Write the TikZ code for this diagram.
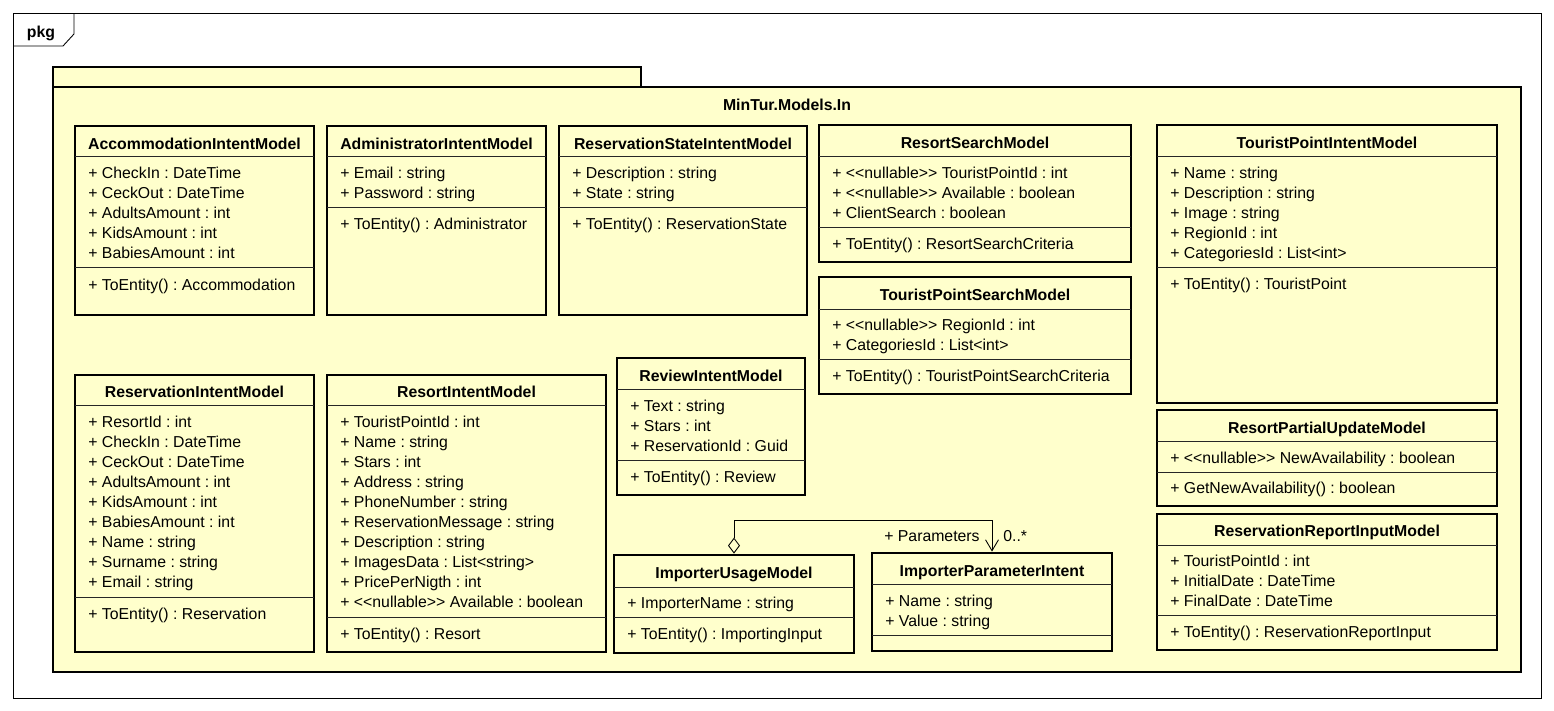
\documentclass[tikz,border=0pt]{standalone}
\usepackage{fontspec}
\setmainfont{Liberation Sans}
\usetikzlibrary{arrows.meta,fit}
\definecolor{umlfill}{RGB}{255,255,204}
\frenchspacing
\begin{document}
\begin{tikzpicture}[
    x=0.02cm, y=-0.02cm,
    every node/.style={font=\fontsize{9}{11.38}\selectfont, inner sep=0pt},
    frame line/.style={draw, line width=0.5pt},
    package box/.style={draw, line width=1.6pt, fill=umlfill},
    class box/.style={draw, line width=1.6pt, fill=umlfill, inner sep=0pt},
    class name/.style={anchor=base, font=\fontsize{9}{11.38}\selectfont\bfseries},
    members/.style={anchor=north west, align=left},
    separator/.style={draw, line width=0.5pt, black!85},
    aggregation/.style={draw, line width=0.5pt, {Diamond[open, length=0.32cm, width=0.24cm]}-{Straight Barb[length=0.22cm, width=0.26cm]}},
    ]
\useasboundingbox (0,0) rectangle (1554,710);
\draw[frame line] (13,13) rectangle (1541,698);
\draw[frame line] (13,46) -- (63,46) -- (74,34) -- (74,13);
\node[font=\fontsize{9}{11.38}\selectfont\bfseries, anchor=base] (pkg) at (41,37) {pkg};
\draw[package box] (53,67) rectangle (641,87);
\draw[package box] (53,87) rectangle (1521,672);
\node[class name] (pkgName) at (787,110) {MinTur.Models.In};
\node[class box, fit={(75,126) (314,315)}] (accom) {};
\node[class name] (accomName) at (194.5,149) {AccommodationIntentModel};
\draw[separator] (75,156) -- (314,156);
\node[members] (accomAttr) at (88,167) {+ CheckIn : DateTime\\+ CeckOut : DateTime\\+ AdultsAmount : int\\+ KidsAmount : int\\+ BabiesAmount : int};
\draw[separator] (75,267) -- (314,267);
\node[members] (accomOp) at (88,279) {+ ToEntity() : Accommodation};
\node[class box, fit={(327,126) (546,315)}] (admin) {};
\node[class name] (adminName) at (436.5,149) {AdministratorIntentModel};
\draw[separator] (327,156) -- (546,156);
\node[members] (adminAttr) at (340,167) {+ Email : string\\+ Password : string};
\draw[separator] (327,207) -- (546,207);
\node[members] (adminOp) at (340,218) {+ ToEntity() : Administrator};
\node[class box, fit={(559,126) (807,315)}] (resState) {};
\node[class name] (resStateName) at (683,149) {ReservationStateIntentModel};
\draw[separator] (559,156) -- (807,156);
\node[members] (resStateAttr) at (572,167) {+ Description : string\\+ State : string};
\draw[separator] (559,207) -- (807,207);
\node[members] (resStateOp) at (572,218) {+ ToEntity() : ReservationState};
\node[class box, fit={(819,125) (1131,262)}] (rSearch) {};
\node[class name] (rSearchName) at (975,148) {ResortSearchModel};
\draw[separator] (819,156) -- (1131,156);
\node[members] (rSearchAttr) at (832,167) {+ <{}<nullable>{}> TouristPointId : int\\+ <{}<nullable>{}> Available : boolean\\+ ClientSearch : boolean};
\draw[separator] (819,227) -- (1131,227);
\node[members] (rSearchOp) at (832,238) {+ ToEntity() : ResortSearchCriteria};
\node[class box, fit={(819,277) (1131,394)}] (tpSearch) {};
\node[class name] (tpSearchName) at (975,300) {TouristPointSearchModel};
\draw[separator] (819,309) -- (1131,309);
\node[members] (tpSearchAttr) at (832,319) {+ <{}<nullable>{}> RegionId : int\\+ CategoriesId : List<int>};
\draw[separator] (819,359) -- (1131,359);
\node[members] (tpSearchOp) at (832,370) {+ ToEntity() : TouristPointSearchCriteria};
\node[class box, fit={(1157,125) (1497,403)}] (tpIntent) {};
\node[class name] (tpIntentName) at (1327,148) {TouristPointIntentModel};
\draw[separator] (1157,156) -- (1497,156);
\node[members] (tpIntentAttr) at (1170,167) {+ Name : string\\+ Description : string\\+ Image : string\\+ RegionId : int\\+ CategoriesId : List<int>};
\draw[separator] (1157,267) -- (1497,267);
\node[members] (tpIntentOp) at (1170,278) {+ ToEntity() : TouristPoint};
\node[class box, fit={(1157,410) (1497,506)}] (partial) {};
\node[class name] (partialName) at (1327,433) {ResortPartialUpdateModel};
\draw[separator] (1157,441) -- (1497,441);
\node[members] (partialAttr) at (1170,452) {+ <{}<nullable>{}> NewAvailability : boolean};
\draw[separator] (1157,472) -- (1497,472);
\node[members] (partialOp) at (1170,482) {+ GetNewAvailability() : boolean};
\node[class box, fit={(1157,514) (1497,650)}] (report) {};
\node[class name] (reportName) at (1327,536) {ReservationReportInputModel};
\draw[separator] (1157,545) -- (1497,545);
\node[members] (reportAttr) at (1170,555) {+ TouristPointId : int\\+ InitialDate : DateTime\\+ FinalDate : DateTime};
\draw[separator] (1157,615) -- (1497,615);
\node[members] (reportOp) at (1170,626) {+ ToEntity() : ReservationReportInput};
\node[class box, fit={(75,375) (314,652)}] (resIntent) {};
\node[class name] (resIntentName) at (194.5,397) {ReservationIntentModel};
\draw[separator] (75,405) -- (314,405);
\node[members] (resIntentAttr) at (88,416) {+ ResortId : int\\+ CheckIn : DateTime\\+ CeckOut : DateTime\\+ AdultsAmount : int\\+ KidsAmount : int\\+ BabiesAmount : int\\+ Name : string\\+ Surname : string\\+ Email : string};
\draw[separator] (75,597) -- (314,597);
\node[members] (resIntentOp) at (88,608) {+ ToEntity() : Reservation};
\node[class box, fit={(327,375) (606,652)}] (resort) {};
\node[class name] (resortName) at (466.5,397) {ResortIntentModel};
\draw[separator] (327,405) -- (606,405);
\node[members] (resortAttr) at (340,416) {+ TouristPointId : int\\+ Name : string\\+ Stars : int\\+ Address : string\\+ PhoneNumber : string\\+ ReservationMessage : string\\+ Description : string\\+ ImagesData : List<string>\\+ PricePerNigth : int\\+ <{}<nullable>{}> Available : boolean};
\draw[separator] (327,617) -- (606,617);
\node[members] (resortOp) at (340,628) {+ ToEntity() : Resort};
\node[class box, fit={(617,358) (805,495)}] (review) {};
\node[class name] (reviewName) at (711,381) {ReviewIntentModel};
\draw[separator] (617,389) -- (805,389);
\node[members] (reviewAttr) at (630,400) {+ Text : string\\+ Stars : int\\+ ReservationId : Guid};
\draw[separator] (617,460) -- (805,460);
\node[members] (reviewOp) at (630,471) {+ ToEntity() : Review};
\node[class box, fit={(614,555) (854,653)}] (usage) {};
\node[class name] (usageName) at (734,578) {ImporterUsageModel};
\draw[separator] (614,587) -- (854,587);
\node[members] (usageAttr) at (627,597) {+ ImporterName : string};
\draw[separator] (614,617) -- (854,617);
\node[members] (usageOp) at (627,628) {+ ToEntity() : ImportingInput};
\node[class box, fit={(872,553) (1112,651)}] (param) {};
\node[class name] (paramName) at (992,576) {ImporterParameterIntent};
\draw[separator] (872,584) -- (1112,584);
\node[members] (paramAttr) at (885,595) {+ Name : string\\+ Value : string};
\draw[separator] (872,635) -- (1112,635);
\draw[aggregation] (usage.north) -- ++(0,-33) -| (param.north);
\node[anchor=base east] (paramRole) at (980,541) {+ Parameters};
\node[anchor=base west] (paramMult) at (1003,541) {0..*};
\end{tikzpicture}
\end{document}
